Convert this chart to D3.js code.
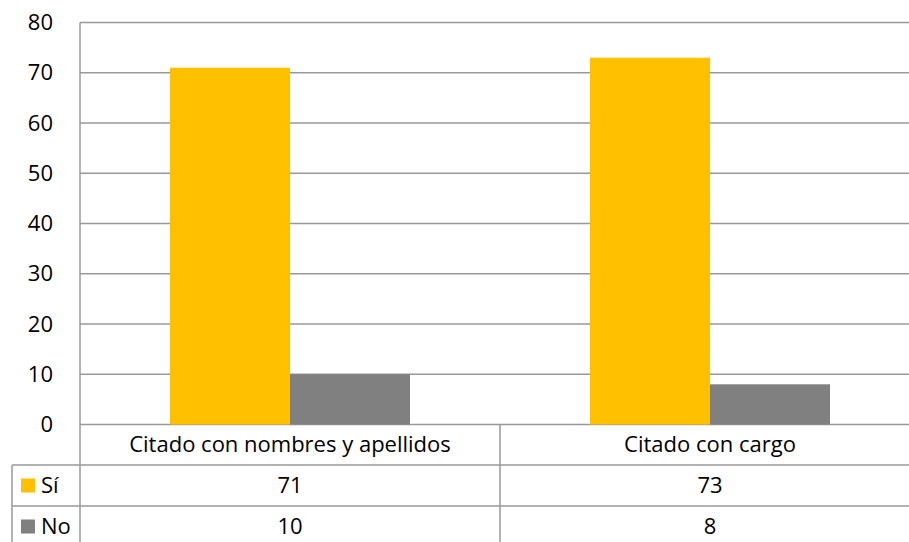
<!DOCTYPE html>
<html>
<head>
<meta charset="utf-8">
<script src="https://cdn.jsdelivr.net/npm/d3@7"></script>
<style>
  body { margin: 0; background: #fff; }
  svg text { font-family: "Open Sans", sans-serif; fill: #000; }
</style>
</head>
<body>
<div id="chart"></div>
<script>
// values
var categories = ["Citado con nombres y apellidos", "Citado con cargo"];
var seriesNames = ["Sí", "No"];
var siValues = [71, 73];
var noValues = [10, 8];
var yTicks = [0, 10, 20, 30, 40, 50, 60, 70, 80];

var colors = { "Sí": "#FFC000", "No": "#808080" };
var lineColor = "#999999";
var fontSize = "22px";

var width = 909, height = 542;
var plotLeft = 80, plotRight = 920,
    plotTop = 22.5, plotBottom = 424.5;
var tableLeft = 12, rowH = 41;

var svg = d3.select("#chart").append("svg")
    .attr("width", width)
    .attr("height", height);

var series = [siValues, noValues];

// scales
var x = d3.scaleBand()
    .domain(categories)
    .range([plotLeft, plotRight])
    .paddingInner(0)
    .paddingOuter(0);

// group of two bars takes 240 of a 420 band (gap width 75%)
var x1 = d3.scaleBand()
    .domain(seriesNames)
    .range([0, x.bandwidth()])
    .paddingInner(0)
    .paddingOuter(0.75);

var y = d3.scaleLinear()
    .domain([0, 80])
    .range([plotBottom, plotTop]);

// gridlines
svg.append("g")
    .selectAll("line")
    .data(yTicks)
    .enter()
    .append("line")
        .attr("x1", plotLeft)
        .attr("x2", plotRight)
        .attr("y1", function(d) { return y(d); })
        .attr("y2", function(d) { return y(d); })
        .attr("stroke", lineColor)
        .attr("stroke-width", 1.5);

// y tick labels
svg.append("g")
    .selectAll("text")
    .data(yTicks)
    .enter()
    .append("text")
        .attr("x", 53)
        .attr("y", function(d) { return y(d); })
        .attr("dy", "0.35em")
        .attr("text-anchor", "end")
        .style("font-size", fontSize)
        .text(function(d) { return d; });

// bars
var groups = svg.append("g")
    .selectAll("g")
    .data(categories)
    .enter()
    .append("g")
        .attr("transform", function(d) { return "translate(" + x(d) + ",0)"; });

groups.selectAll("rect")
    .data(function(d, i) {
        return seriesNames.map(function(s, j) { return { name: s, value: series[j][i] }; });
    })
    .enter()
    .append("rect")
        .attr("x", function(d) { return x1(d.name); })
        .attr("y", function(d) { return y(d.value); })
        .attr("width", x1.bandwidth())
        .attr("height", function(d) { return y(0) - y(d.value); })
        .attr("fill", function(d) { return colors[d.name]; });

// data table
var table = svg.append("g");
var row0 = plotBottom, row1 = row0 + 40.5, row2 = row1 + rowH, row3 = row2 + rowH;

function hline(x1p, x2p, yp) {
    table.append("line")
        .attr("x1", x1p).attr("x2", x2p)
        .attr("y1", yp).attr("y2", yp)
        .attr("stroke", lineColor).attr("stroke-width", 1.5);
}
function vline(xp, y1p, y2p) {
    table.append("line")
        .attr("x1", xp).attr("x2", xp)
        .attr("y1", y1p).attr("y2", y2p)
        .attr("stroke", lineColor).attr("stroke-width", 1.5);
}

hline(tableLeft, plotRight, row1);
hline(tableLeft, plotRight, row2);
hline(tableLeft, plotRight, row3);
vline(plotLeft, plotTop, row3);
vline(tableLeft, row1, row3);
categories.forEach(function(c) {
    vline(x(c) + x.bandwidth(), row0, row3);
});

// category labels
table.selectAll("text.cat")
    .data(categories)
    .enter()
    .append("text")
        .attr("class", "cat")
        .attr("x", function(d) { return x(d) + x.bandwidth() / 2; })
        .attr("y", (row0 + row1) / 2)
        .attr("dy", "0.35em")
        .attr("text-anchor", "middle")
        .style("font-size", fontSize)
        .text(function(d) { return d; });

// series rows
seriesNames.forEach(function(s, j) {
    var top = j === 0 ? row1 : row2;
    var mid = top + rowH / 2;
    table.append("rect")
        .attr("x", 21)
        .attr("y", mid - 7)
        .attr("width", 14)
        .attr("height", 14)
        .attr("fill", colors[s]);
    table.append("text")
        .attr("x", 41)
        .attr("y", mid)
        .attr("dy", "0.35em")
        .style("font-size", fontSize)
        .text(s);
    table.selectAll("text.v" + j)
        .data(categories)
        .enter()
        .append("text")
            .attr("class", "v" + j)
            .attr("x", function(d) { return x(d) + x.bandwidth() / 2; })
            .attr("y", mid)
            .attr("dy", "0.35em")
            .attr("text-anchor", "middle")
            .style("font-size", fontSize)
            .text(function(d, i) { return series[j][i]; });
});
</script>
</body>
</html>
